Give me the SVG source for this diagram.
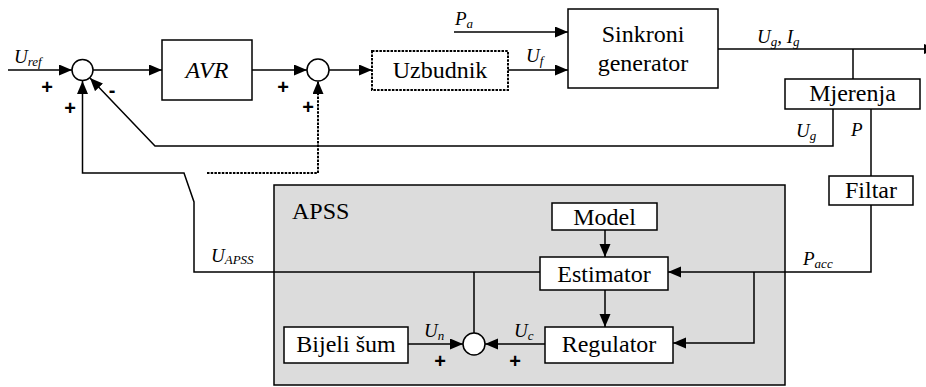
<svg xmlns="http://www.w3.org/2000/svg" width="926" height="387" viewBox="0 0 926 387">
<defs>
<marker id="ah" markerUnits="userSpaceOnUse" markerWidth="14" markerHeight="12" refX="13" refY="5.5" orient="auto">
<path d="M0,0 L13,5.5 L0,11 Z" fill="#000"/>
</marker>
<style>
.box{fill:#fff;stroke:#000;stroke-width:1.5}
.dash{fill:#fff;stroke:#000;stroke-width:2;stroke-dasharray:2.5 1.2}
.ln{fill:none;stroke:#000;stroke-width:1.5}
.dl{fill:none;stroke:#000;stroke-width:2;stroke-dasharray:2.5 1.2}
.arr{marker-end:url(#ah)}
.t{font-family:'Liberation Serif','Times New Roman','DejaVu Serif',serif;font-size:24px;fill:#000}
.ti{font-family:'Liberation Serif','Times New Roman','DejaVu Serif',serif;font-style:italic;font-size:24px;fill:#000}
.v{font-family:'Liberation Serif','Times New Roman','DejaVu Serif',serif;font-style:italic;font-size:19px;fill:#000}
.s{font-size:13px}
.sg{font-family:'Liberation Sans',Arial,sans-serif;font-weight:bold;font-size:20px;fill:#000}
.sum{fill:#fff;stroke:#000;stroke-width:1.5}
</style>
</defs>
<rect id="apss" x="274" y="185" width="511" height="200" fill="#dcdcdc" stroke="#000" stroke-width="1.5"/>
<text class="t" font-family="Liberation Serif, serif" x="292" y="219">APSS</text>
<g id="connectors">
<line class="ln arr" x1="8" y1="70" x2="72" y2="70"/>
<line class="ln arr" x1="93" y1="70" x2="162" y2="70"/>
<line class="ln arr" x1="252" y1="70" x2="307" y2="70"/>
<line class="ln arr" x1="329" y1="70" x2="372" y2="70"/>
<line class="ln arr" x1="508" y1="70" x2="568" y2="70"/>
<line class="ln arr" x1="454" y1="32" x2="568" y2="32"/>
<line class="ln" x1="718" y1="49" x2="926" y2="49"/>
<path d="M924,44 L936,49 L924,54 Z" fill="#000"/>
<line class="ln" x1="853" y1="49" x2="853" y2="79"/>
<polyline class="ln arr" points="833,109 833,146 155,146 90,78"/>
<line class="ln" x1="871" y1="109" x2="871" y2="176"/>
<polyline class="ln arr" points="871,205 871,272 668,272"/>
<polyline class="ln arr" points="754,272 754,343 673,343"/>
<polyline class="ln arr" points="540,272 194,272 194,202 184,173 82.5,173 82.5,81"/>
<polyline class="dl arr" points="207,173 318,173 318,81"/>
<line class="ln arr" x1="605" y1="230" x2="605" y2="257"/>
<line class="ln arr" x1="605" y1="290" x2="605" y2="327"/>
<line class="ln arr" x1="408" y1="344" x2="463" y2="344"/>
<line class="ln arr" x1="545" y1="344" x2="485" y2="344"/>
<line class="ln" x1="474" y1="333" x2="474" y2="272"/>
</g>
<g id="sum1"><circle class="sum" cx="82.5" cy="70" r="10.5"/></g>
<g id="sum2"><circle class="sum" cx="318" cy="70" r="11"/></g>
<g id="sum3"><circle class="sum" cx="474" cy="344" r="11"/></g>
<g id="avr"><rect class="box" x="162" y="40" width="90" height="60"/><text class="ti" x="207" y="78" text-anchor="middle">AVR</text></g>
<g id="uzbudnik"><rect class="dash" x="372" y="51" width="136" height="39"/><text class="t" x="440" y="78" text-anchor="middle">Uzbudnik</text></g>
<g id="generator"><rect class="box" x="568" y="9" width="150" height="79"/><text class="t" x="643" y="42" text-anchor="middle">Sinkroni</text><text class="t" x="643" y="71" text-anchor="middle">generator</text></g>
<g id="mjerenja"><rect class="box" x="785" y="79" width="135" height="30"/><text class="t" x="852.5" y="101" text-anchor="middle">Mjerenja</text></g>
<g id="filtar"><rect class="box" x="829" y="176" width="84" height="29"/><text class="t" x="871" y="198" text-anchor="middle">Filtar</text></g>
<g id="model"><rect class="box" x="552" y="203" width="105" height="27"/><text class="t" x="604.5" y="225" text-anchor="middle">Model</text></g>
<g id="estimator"><rect class="box" x="540" y="257" width="128" height="33"/><text class="t" x="604" y="282" text-anchor="middle">Estimator</text></g>
<g id="regulator"><rect class="box" x="545" y="327" width="128" height="36"/><text class="t" x="609" y="352" text-anchor="middle">Regulator</text></g>
<g id="bijeli"><rect class="box" x="284" y="327" width="124" height="36"/><text class="t" x="346" y="352" text-anchor="middle">Bijeli šum</text></g>
<g id="labels">
<text class="v" x="14" y="63">U<tspan class="s" dy="3">ref</tspan></text>
<text class="v" x="455" y="25">P<tspan class="s" dy="3">a</tspan></text>
<text class="v" x="526" y="62">U<tspan class="s" dy="3">f</tspan></text>
<text class="v" x="757" y="43">U<tspan class="s" dy="3">g</tspan><tspan dy="-3">, I</tspan><tspan class="s" dy="3">g</tspan></text>
<text class="v" x="796" y="137">U<tspan class="s" dy="3">g</tspan></text>
<text class="v" x="851" y="136">P</text>
<text class="v" x="211" y="262">U<tspan class="s" dy="2">APSS</tspan></text>
<text class="v" x="803" y="265">P<tspan class="s" dy="3">acc</tspan></text>
<text class="v" x="424" y="337">U<tspan class="s" dy="3">n</tspan></text>
<text class="v" x="514" y="337">U<tspan class="s" dy="3">c</tspan></text>
<text class="sg" x="47" y="94" text-anchor="middle">+</text>
<text class="sg" x="70" y="115" text-anchor="middle">+</text>
<text class="sg" x="283" y="94" text-anchor="middle">+</text>
<text class="sg" x="308" y="114" text-anchor="middle">+</text>
<text class="sg" x="112" y="97" text-anchor="middle">-</text>
<text class="sg" x="440" y="368" text-anchor="middle">+</text>
<text class="sg" x="515" y="368" text-anchor="middle">+</text>
</g>
</svg>
